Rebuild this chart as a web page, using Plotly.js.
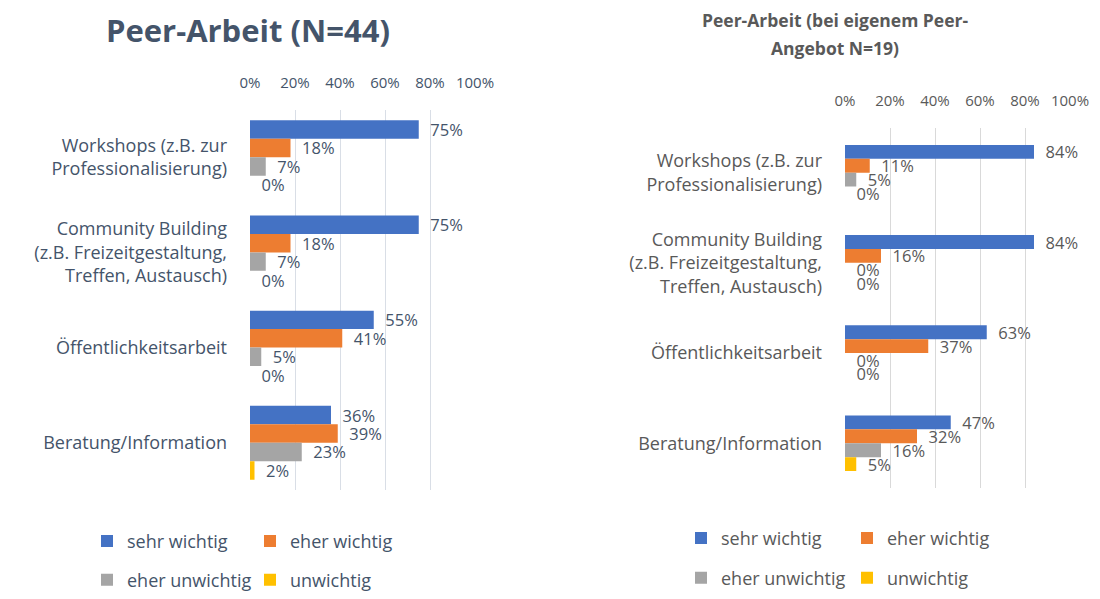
<!DOCTYPE html>
<html>
<head>
<meta charset="utf-8">
<script src="https://cdn.plot.ly/plotly-3.0.1.min.js"></script>
<style>html,body{margin:0;padding:0;background:#fff;}#chart{width:1100px;height:599px;}</style>
</head>
<body>
<div id="chart"></div>
<script>
// Categories (top to bottom)
const categories = [
  "Workshops (z.B. zur<br>Professionalisierung)",
  "Community Building<br>(z.B. Freizeitgestaltung,<br>Treffen, Austausch)",
  "Öffentlichkeitsarbeit",
  "Beratung/Information"
];
const seriesNames = ["sehr wichtig", "eher wichtig", "eher unwichtig", "unwichtig"];

// Left chart: Peer-Arbeit (N=44), values in %
const leftSehrWichtig = [75, 75, 55, 36];
const leftEherWichtig = [18, 18, 41, 39];
const leftEherUnwichtig = [7, 7, 5, 23];
const leftUnwichtig = [0, 0, 0, 2];

// Right chart: Peer-Arbeit (bei eigenem Peer-Angebot N=19), values in %
const rightSehrWichtig = [84, 84, 63, 47];
const rightEherWichtig = [11, 16, 37, 32];
const rightEherUnwichtig = [5, 0, 0, 16];
const rightUnwichtig = [0, 0, 0, 5];

const tickVals = [0, 20, 40, 60, 80, 100];
const tickLabels = ["0%", "20%", "40%", "60%", "80%", "100%"];

const colors = ["#4472c4", "#ed7d31", "#a5a5a5", "#ffc000"];
const leftText = "#44546a";
const rightText = "#595959";
const FONT = "'Open Sans', sans-serif";

function makeTraces(vals, xa, ya, legends, txtColor, w) {
  return vals.map((v, i) => ({
    type: "bar",
    orientation: "h",
    name: seriesNames[i],
    x: v,
    y: categories,
    xaxis: xa,
    yaxis: ya,
    width: w,
    offset: -2 * w + i * w,
    marker: { color: colors[i], line: { width: 0 } },
    texttemplate: "\u00a0\u00a0%{x:.0f}%",
    textposition: "outside",
    constraintext: "none",
    cliponaxis: false,
    textfont: { family: FONT, size: 16.5, color: txtColor },
    legend: legends[i],
    showlegend: true,
    hoverinfo: "x+name"
  }));
}

const traces = [
  ...makeTraces([leftSehrWichtig, leftEherWichtig, leftEherUnwichtig, leftUnwichtig],
    "x", "y", ["legend", "legend", "legend2", "legend2"], leftText, 0.194),
  ...makeTraces([rightSehrWichtig, rightEherWichtig, rightEherUnwichtig, rightUnwichtig],
    "x2", "y2", ["legend3", "legend3", "legend4", "legend4"], rightText, 0.154)
];

function xAxis(domain, anchor, color, grid) {
  return {
    domain: domain, anchor: anchor, side: "top",
    range: [0, 100], tickvals: tickVals, ticktext: tickLabels,
    showgrid: true, gridcolor: grid, gridwidth: 1,
    zeroline: false, showline: false, ticks: "",
    ticklabelstandoff: 18,
    tickfont: { family: FONT, size: 15, color: color },
    fixedrange: true
  };
}
function yAxis(domain, anchor, color) {
  return {
    domain: domain, anchor: anchor, type: "category",
    autorange: "reversed", showgrid: false, zeroline: false,
    showline: false, ticks: "", ticklabelstandoff: 22,
    tickfont: { family: FONT, size: 18, color: color },
    fixedrange: true
  };
}
function legendCfg(x, y, color, ew) {
  return {
    orientation: "h", x: x, y: y, xanchor: "left", yanchor: "middle",
    xref: "paper", yref: "paper",
    entrywidth: ew, entrywidthmode: "pixels",
    itemwidth: 30, bgcolor: "rgba(0,0,0,0)",
    font: { family: FONT, size: 18, color: color },
    traceorder: "normal", itemclick: false, itemdoubleclick: false
  };
}

const layout = {
  width: 1100, height: 599,
  margin: { l: 0, r: 0, t: 0, b: 0 },
  paper_bgcolor: "#ffffff", plot_bgcolor: "#ffffff",
  barmode: "overlay",
  font: { family: FONT },
  xaxis: xAxis([250 / 1100, 475 / 1100], "y", leftText, "#d9dee6"),
  yaxis: yAxis([1 - 492 / 599, 1 - 110 / 599], "x", leftText),
  xaxis2: xAxis([845 / 1100, 1070 / 1100], "y2", rightText, "#d9d9d9"),
  yaxis2: yAxis([1 - 490 / 599, 1 - 128 / 599], "x2", rightText),
  legend: legendCfg(87 / 1100, 1 - 543 / 599, leftText, 118),
  legend2: legendCfg(87 / 1100, 1 - 582 / 599, leftText, 118),
  legend3: legendCfg(681 / 1100, 1 - 540 / 599, rightText, 121),
  legend4: legendCfg(681 / 1100, 1 - 580 / 599, rightText, 121),
  annotations: [
    {
      text: "<b>Peer-Arbeit (N=44)</b>", xref: "paper", yref: "paper",
      x: 248 / 1100, y: 1 - 30 / 599, xanchor: "center", yanchor: "middle",
      showarrow: false, font: { family: FONT, size: 31, color: leftText }
    },
    {
      text: "<b>Peer-Arbeit (bei eigenem Peer-</b>", xref: "paper", yref: "paper",
      x: 835 / 1100, y: 1 - 20 / 599, xanchor: "center", yanchor: "middle",
      showarrow: false, font: { family: FONT, size: 17.5, color: rightText }
    },
    {
      text: "<b>Angebot N=19)</b>", xref: "paper", yref: "paper",
      x: 835 / 1100, y: 1 - 48 / 599, xanchor: "center", yanchor: "middle",
      showarrow: false, font: { family: FONT, size: 17.5, color: rightText }
    }
  ]
};

Plotly.newPlot("chart", traces, layout, { displayModeBar: false, staticPlot: true });
</script>
</body>
</html>
